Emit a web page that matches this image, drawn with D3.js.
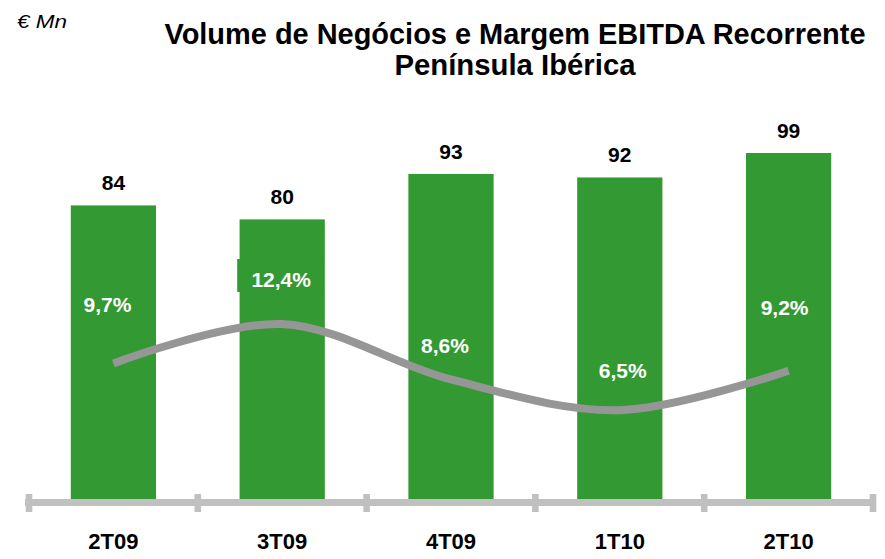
<!DOCTYPE html>
<html><head><meta charset="utf-8">
<script src="https://cdn.jsdelivr.net/npm/d3@7"></script>
<style>body{margin:0;background:#fff}svg{display:block}</style>
</head><body><svg id="c" width="885" height="559"></svg>
<script>
// ---- data ----
const categories = ["2T09", "3T09", "4T09", "1T10", "2T10"];
const volume = [84, 80, 93, 92, 99];
const volumeLabels = ["84", "80", "93", "92", "99"];
const marginPct = [9.7, 12.4, 8.6, 6.5, 9.2];
const marginLabels = ["9,7%", "12,4%", "8,6%", "6,5%", "9,2%"];
const titleLines = ["Volume de Negócios e Margem EBITDA Recorrente", "Península Ibérica"];
const unitLabel = "€ Mn";

// ---- layout (not data) ----
const labelNudge = [[-6, -51], [-1, -37], [-6, -26], [3, -32], [-4, -56]];
const FONT = "'Liberation Sans', Arial, sans-serif";
const GREEN = "#339933";
const AXIS_GREY = "#c0c0c0";
const LINE_GREY = "#969696";

const svg = d3.select("#c");
const x = d3.scaleBand().domain(categories).range([29, 873]).padding(0);
const y = d3.scaleLinear().domain([0, 100]).range([499, 149.5]);
const y2 = d3.scaleLinear().domain([0, 34.6]).range([505, 0]);
const barW = x.bandwidth() * 0.505;
const cx = c => x(c) + x.bandwidth() / 2;

// unit label
svg.append("text").attr("x", 17).attr("y", 28)
  .attr("font-family", FONT).attr("font-style", "italic").attr("font-size", 19)
  .attr("textLength", 50).attr("lengthAdjust", "spacingAndGlyphs")
  .attr("fill", "#000").text(unitLabel);

// title
const titleW = [701, 241];
const titleY = [44, 75];
titleLines.forEach((t, i) => {
  svg.append("text").attr("x", 515).attr("y", titleY[i])
    .attr("text-anchor", "middle")
    .attr("font-family", FONT).attr("font-weight", "bold").attr("font-size", 29)
    .attr("textLength", titleW[i]).attr("lengthAdjust", "spacingAndGlyphs")
    .attr("fill", "#000").text(t);
});

// bars
svg.append("g").selectAll("rect").data(categories).join("rect")
  .attr("x", c => cx(c) - barW / 2)
  .attr("width", barW)
  .attr("y", (c, i) => y(volume[i]))
  .attr("height", (c, i) => y(0) - y(volume[i]))
  .attr("fill", GREEN);

// value labels
svg.append("g").selectAll("text").data(categories).join("text")
  .attr("x", c => cx(c))
  .attr("y", (c, i) => y(volume[i]) - 15)
  .attr("text-anchor", "middle")
  .attr("font-family", FONT).attr("font-weight", "bold").attr("font-size", 21)
  .attr("fill", "#000")
  .text((c, i) => volumeLabels[i]);

// axis line and boundary ticks
svg.append("rect").attr("x", 25).attr("y", 499).attr("width", 851).attr("height", 7)
  .attr("fill", AXIS_GREY);
const bounds = d3.range(categories.length + 1).map(i => x.range()[0] + i * x.step());
svg.append("g").selectAll("rect").data(bounds).join("rect")
  .attr("x", b => b - 3.3).attr("width", 6.6)
  .attr("y", 494).attr("height", 18)
  .attr("fill", AXIS_GREY);

// category axis labels
const ax = svg.append("g").attr("transform", "translate(0,549)")
  .call(d3.axisBottom(x).tickSize(0).tickPadding(0));
ax.select(".domain").remove();
ax.selectAll("text").attr("y", 0).attr("dy", null)
  .attr("font-family", FONT).attr("font-weight", "bold").attr("font-size", 22)
  .attr("fill", "#000");

// margin line
const line = d3.line()
  .x((d, i) => cx(categories[i]))
  .y(d => y2(d))
  .curve(d3.curveCardinal.tension(0));
svg.append("path").datum(marginPct)
  .attr("d", line)
  .attr("fill", "none").attr("stroke", LINE_GREY).attr("stroke-width", 8)
  .attr("stroke-linejoin", "round");

// margin labels (12,4% has a green label box)
const boxIdx = 1;
svg.append("rect")
  .attr("x", cx(categories[boxIdx]) - 45)
  .attr("y", y2(marginPct[boxIdx]) - 65)
  .attr("width", 86).attr("height", 33)
  .attr("fill", GREEN);

svg.append("g").selectAll("text").data(categories).join("text")
  .attr("x", (c, i) => cx(c) + labelNudge[i][0])
  .attr("y", (c, i) => y2(marginPct[i]) + labelNudge[i][1])
  .attr("text-anchor", "middle")
  .attr("font-family", FONT).attr("font-weight", "bold").attr("font-size", 21)
  .attr("fill", "#fff")
  .text((c, i) => marginLabels[i]);
</script>
</body></html>
